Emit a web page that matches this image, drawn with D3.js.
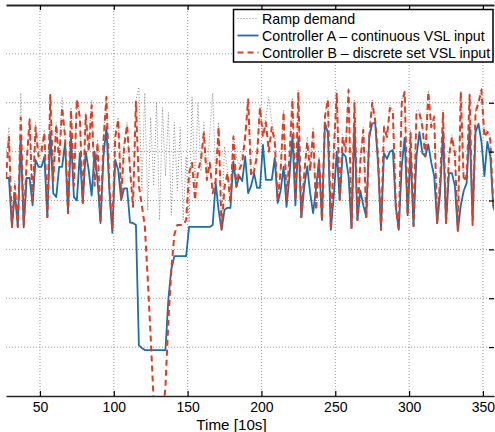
<!DOCTYPE html>
<html>
<head>
<meta charset="utf-8">
<script src="https://cdn.jsdelivr.net/npm/d3@7"></script>
<style>
  body { margin: 0; background: #fff; }
  text { font-family: "Liberation Sans", Arial, sans-serif; }
</style>
</head>
<body>
<svg id="chart" width="495" height="432"></svg>
<script>
// time axis, one sample every 2 steps of 10s
const times = d3.range(27, 360, 2);

// Ramp demand (dotted grey)
const rampDemand = [
  4.9, 5.5, 3.5, 4.4, 3.5, 6.2, 3.6, 4.9, 5.7, 4.0,
  5.6, 5.0, 5.1, 5.45, 3.7, 6.18, 4.5, 5.6, 4.9, 6.1,
  5.35, 3.8, 5.9, 4.4, 6.08, 5.75, 4.0, 5.8, 5.1, 6.05,
  4.4, 5.25, 3.6, 5.3, 6.14, 4.4, 3.45, 5.4, 5.7, 4.1,
  5.2, 5.6, 4.7, 3.9, 6.05, 6.32, 4.2, 6.2, 3.8, 5.7,
  4.3, 6.0, 3.6, 5.9, 4.5, 5.8, 3.7, 5.6, 4.2, 5.5,
  3.6, 4.9, 3.55, 6.12, 4.2, 6.0, 4.6, 5.6, 4.5, 5.4,
  6.2, 4.5, 5.6, 3.45, 5.1, 4.6, 4.0, 5.35, 4.9, 4.7,
  5.0, 5.35, 6.1, 4.6, 4.7, 5.0, 5.95, 5.4, 5.7, 6.12,
  5.6, 5.3, 4.05, 4.7, 5.85, 4.1, 5.0, 6.1, 4.1, 6.25,
  3.7, 4.6, 5.3, 4.7, 5.5, 3.85, 4.9, 3.65, 5.75, 6.1,
  3.45, 5.1, 6.25, 4.05, 5.35, 5.1, 6.3, 3.5, 6.05, 3.65,
  4.85, 5.5, 3.7, 5.35, 6.05, 5.7, 4.95, 3.45, 5.55, 5.35,
  5.95, 5.85, 3.9, 3.45, 6.05, 6.25, 3.75, 5.45, 3.5, 5.85,
  5.85, 5.55, 4.95, 6.25, 5.55, 5.75, 3.6, 4.45, 5.85, 3.6,
  4.95, 5.35, 5.0, 3.4, 6.25, 4.45, 4.55, 6.2, 3.55, 5.85,
  6.05, 6.3, 5.35, 5.45, 5.3, 3.95, 3.8
];

// Controller A - continuous VSL input (solid blue)
const controllerA = [
  4.46, 4.46, 3.46, 4.15, 3.46, 5.24, 3.45, 4.46, 4.46, 3.9,
  4.83, 4.69, 4.69, 4.89, 3.66, 5.4, 4.15, 4.07, 4.69, 4.69,
  5.18, 3.74, 5.3, 4.07, 4.0, 4.97, 3.95, 5.0, 4.62, 4.1,
  5.0, 4.4, 3.54, 4.89, 5.5, 4.2, 3.34, 4.83, 4.62, 4.01,
  4.25, 4.25, 3.55, 3.54, 3.5, 1.04, 0.98, 0.94, 0.94, 0.94,
  0.94, 0.94, 0.94, 0.94, 0.94, 2.0, 2.6, 2.86, 2.86, 2.86,
  2.86, 2.86, 3.46, 3.46, 3.46, 3.46, 3.46, 3.46, 3.46, 3.46,
  3.5, 4.36, 3.8, 3.4, 3.81, 3.85, 3.85, 4.8, 4.28, 4.5,
  4.4, 4.9, 4.15, 4.3, 4.56, 4.26, 4.26, 5.14, 4.42, 4.42,
  4.42, 4.87, 3.95, 4.2, 4.69, 3.87, 4.5, 5.34, 3.9, 5.28,
  3.66, 4.28, 4.7, 4.15, 3.74, 4.26, 4.83, 3.6, 5.59, 5.38,
  3.4, 4.1, 5.0, 4.01, 4.97, 4.9, 4.5, 3.44, 5.57, 3.6,
  4.2, 3.9, 3.66, 5.3, 5.57, 5.6, 4.73, 3.4, 4.97, 4.85,
  5.0, 5.03, 3.87, 3.4, 4.7, 5.28, 3.7, 4.97, 3.48, 4.9,
  5.4, 4.97, 4.9, 5.15, 4.78, 4.5, 3.54, 4.15, 5.4, 3.54,
  4.56, 4.56, 4.3, 3.38, 3.9, 4.2, 4.36, 5.5, 3.6, 5.4,
  5.57, 5.2, 4.5, 5.2, 4.9, 3.87, 3.7
];

// Controller B - discrete set VSL input (dashed red)
const controllerB = [
  4.46, 5.3, 3.46, 4.3, 3.46, 5.7, 3.5, 4.8, 5.65, 3.95,
  5.5, 4.9, 5.0, 5.38, 3.66, 6.16, 4.4, 5.55, 4.8, 5.9,
  5.3, 3.74, 5.85, 4.3, 6.06, 5.7, 3.95, 5.75, 5.0, 5.95,
  4.3, 5.18, 3.54, 5.2, 6.12, 4.3, 3.4, 5.3, 5.65, 4.05,
  5.1, 5.54, 4.63, 3.87, 6.02, 4.3, 3.9, 3.48, 2.4, 1.2,
  -0.1, -0.6, -0.8, -0.5, 0.2, 1.55, 2.6, 3.3, 3.5, 3.5,
  3.5, 3.6, 4.56, 4.77, 4.01, 4.6, 4.83, 5.38, 4.42, 4.77,
  4.15, 4.4, 5.5, 3.4, 4.28, 4.56, 3.95, 5.3, 4.28, 4.63,
  4.77, 5.3, 6.06, 4.5, 4.6, 4.9, 5.9, 5.3, 5.6, 5.0,
  5.5, 5.2, 4.0, 4.6, 5.81, 4.0, 4.9, 6.06, 4.0, 6.22,
  3.66, 4.56, 5.2, 4.6, 5.44, 3.8, 4.83, 3.6, 5.71, 6.06,
  3.4, 5.0, 6.2, 4.01, 5.3, 5.0, 6.26, 3.44, 6.0, 3.6,
  4.8, 5.44, 3.66, 5.3, 6.0, 5.65, 4.9, 3.4, 5.5, 5.3,
  5.89, 5.8, 3.87, 3.4, 5.99, 6.22, 3.7, 5.38, 3.48, 5.79,
  5.79, 5.5, 4.9, 6.22, 5.5, 5.71, 3.54, 4.4, 5.79, 3.54,
  4.9, 5.3, 4.97, 3.38, 6.22, 4.4, 4.5, 6.16, 3.5, 5.8,
  6.0, 6.26, 5.3, 5.4, 5.24, 3.9, 3.75
];

const xTicks = [50, 100, 150, 200, 250, 300, 350];
const yTicks = [1, 2, 3, 4, 5, 6, 7];
const seriesNames = ["Ramp demand", "Controller A \u2013 continuous VSL input", "Controller B \u2013 discrete set VSL input"];

const svg    = d3.select("#chart"),
      margin = {top: 5, right: 1, bottom: 36, left: 6},
      width  = +svg.attr("width")  - margin.left - margin.right,
      height = +svg.attr("height") - margin.top  - margin.bottom,
      x      = d3.scaleLinear().domain([27, 357.5]).range([0, width]),
      y      = d3.scaleLinear().domain([0, 8]).range([height, 0]),
      g      = svg.append("g").attr("transform", `translate(${margin.left},${margin.top})`);

// dotted grid
g.append("g").selectAll("line").data(xTicks).enter().append("line")
  .attr("x1", d => x(d)).attr("x2", d => x(d))
  .attr("y1", 0).attr("y2", height)
  .attr("stroke", "#9a9a9a").attr("stroke-width", 1).attr("stroke-dasharray", "1,2");
g.append("g").selectAll("line").data(yTicks).enter().append("line")
  .attr("x1", 0).attr("x2", width)
  .attr("y1", d => y(d)).attr("y2", d => y(d))
  .attr("stroke", "#9a9a9a").attr("stroke-width", 1).attr("stroke-dasharray", "1,2");

svg.append("clipPath").attr("id", "clip").append("rect")
  .attr("width", width).attr("height", height);

const line = d3.line().x((d, i) => x(times[i])).y(d => y(d));
const plot = g.append("g").attr("clip-path", "url(#clip)");

const styles = [
  {data: rampDemand,  color: "#8a8a8a", w: 1,   dash: "1,2"},
  {data: controllerA, color: "#1c6fa8", w: 1.8, dash: null},
  {data: controllerB, color: "#e23b1f", w: 2,   dash: "6,4"}
];
styles.forEach(s => {
  plot.append("path").datum(s.data)
    .attr("fill", "none")
    .attr("stroke", s.color)
    .attr("stroke-width", s.w)
    .attr("stroke-dasharray", s.dash)
    .attr("stroke-linejoin", "round")
    .attr("d", line);
});

// axes
const xAxis = g.append("g")
  .attr("transform", `translate(0,${height})`)
  .call(d3.axisBottom(x).tickValues(xTicks).tickSizeInner(-5).tickSizeOuter(0).tickPadding(6));
xAxis.selectAll("text").style("font-size", "14px").attr("fill", "#000");
xAxis.select(".domain").attr("stroke", "#262626").attr("stroke-width", 1.6);

const topAxis = g.append("g")
  .call(d3.axisTop(x).tickValues(xTicks).tickSizeInner(-5).tickSizeOuter(0).tickFormat(""));
topAxis.select(".domain").attr("stroke", "#262626").attr("stroke-width", 1.8);

g.append("g")
  .attr("transform", `translate(${width},0)`)
  .call(d3.axisRight(y).tickValues(yTicks).tickSizeInner(-5).tickSizeOuter(0).tickFormat(""))
  .select(".domain").remove();

g.selectAll(".tick line").attr("stroke", "#000").attr("stroke-width", 1.2);

// axis title, kept just under the tick labels
svg.append("text")
  .attr("x", 231.5).attr("y", 429.5)
  .attr("text-anchor", "middle")
  .style("font-size", "15.2px")
  .text("Time [10s]");

// legend
const legend = svg.append("g").attr("transform", "translate(233.5,9.5)");
legend.append("rect")
  .attr("width", 259.5).attr("height", 52.5)
  .attr("fill", "#fff").attr("stroke", "#000").attr("stroke-width", 1.5);
styles.forEach((s, i) => {
  const row = legend.append("g").attr("transform", `translate(0,${9 + i * 17})`);
  row.append("line")
    .attr("x1", 4).attr("x2", 25)
    .attr("stroke", s.color).attr("stroke-width", s.w)
    .attr("stroke-dasharray", s.dash);
  row.append("text")
    .attr("x", 28.5).attr("y", 5)
    .style("font-size", "14.2px")
    .text(seriesNames[i]);
});
</script>
</body>
</html>
